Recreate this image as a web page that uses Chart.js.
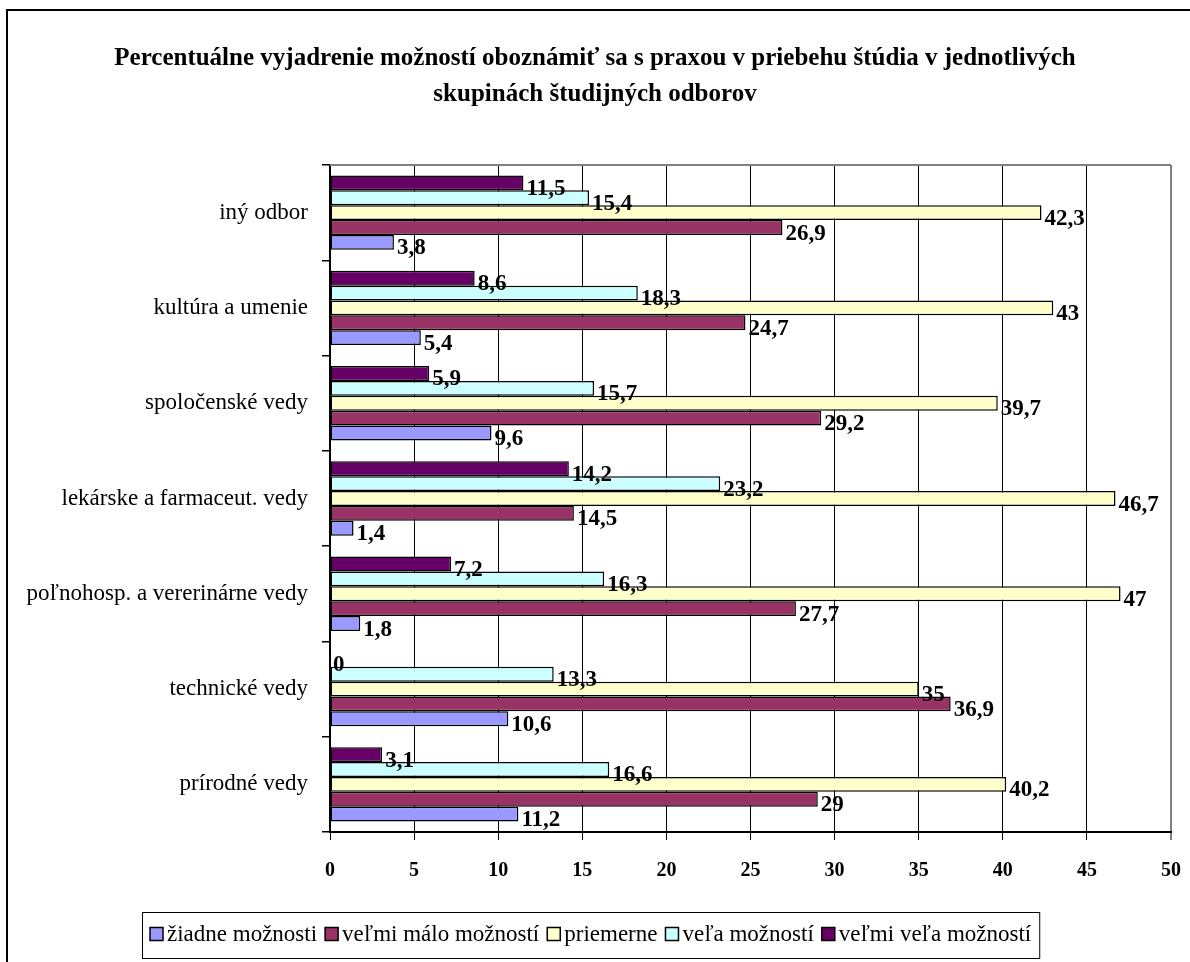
<!DOCTYPE html>
<html>
<head>
<meta charset="utf-8">
<script src="https://cdn.jsdelivr.net/npm/chart.js@4.4.0/dist/chart.umd.min.js"></script>
<style>
  html, body { margin: 0; padding: 0; background: #fff; }
  #wrap { position: relative; width: 1190px; height: 962px; }
</style>
</head>
<body>
<div id="wrap"><canvas id="chart" width="1190" height="962"></canvas></div>
<script>
// data (bottom category first, the y axis is reversed)
const categories = ['prírodné vedy', 'technické vedy', 'poľnohosp. a vererinárne vedy',
  'lekárske a farmaceut. vedy', 'spoločenské vedy', 'kultúra a umenie', 'iný odbor'];
const seriesNames = ['žiadne možnosti', 'veľmi málo možností', 'priemerne', 'veľa možností', 'veľmi veľa možností'];
const ziadne    = [11.2, 10.6, 1.8, 1.4, 9.6, 5.4, 3.8];
const velmiMalo = [29, 36.9, 27.7, 14.5, 29.2, 24.7, 26.9];
const priemerne = [40.2, 35, 47, 46.7, 39.7, 43, 42.3];
const vela      = [16.6, 13.3, 16.3, 23.2, 15.7, 18.3, 15.4];
const velmiVela = [3.1, 0, 7.2, 14.2, 5.9, 8.6, 11.5];
const xTicks = [0, 5, 10, 15, 20, 25, 30, 35, 40, 45, 50];
const titleLines = ['Percentuálne vyjadrenie možností oboznámiť sa s praxou v priebehu štúdia v jednotlivých',
  'skupinách študijných odborov'];

const colors = ['#9999FF', '#993366', '#FFFFCC', '#CCFFFF', '#660066'];
const allValues = [ziadne, velmiMalo, priemerne, vela, velmiVela];

const serif = '"Liberation Serif", "Times New Roman", serif';

// frame, title, plot top border, legend
const framePlugin = {
  id: 'frame',
  beforeDraw(chart) {
    const c = chart.ctx;
    c.save();
    c.fillStyle = '#fff';
    c.fillRect(0, 0, chart.width, chart.height);
    c.strokeStyle = '#000';
    c.lineWidth = 2;
    c.beginPath();
    c.moveTo(7, 962);
    c.lineTo(7, 10);
    c.lineTo(1190, 10);
    c.stroke();
    c.restore();
  },
  afterDraw(chart) {
    const c = chart.ctx;
    const a = chart.chartArea;
    c.save();
    c.strokeStyle = '#808080';
    c.lineWidth = 2;
    c.beginPath();
    c.moveTo(a.left, a.top);
    c.lineTo(a.right, a.top);
    c.stroke();

    // title
    c.fillStyle = '#000';
    c.font = 'bold 25px ' + serif;
    c.textAlign = 'center';
    c.textBaseline = 'middle';
    titleLines.forEach((t, i) => c.fillText(t, 595, 59 + i * 36));

    // legend
    c.font = '23px ' + serif;
    c.textAlign = 'left';
    const mk = 13, gapIn = 4, gapOut = 8, padX = 8;
    const widths = seriesNames.map(n => c.measureText(n).width);
    let total = padX * 2;
    widths.forEach((w, i) => { total += mk + gapIn + w + (i < widths.length - 1 ? gapOut : 0); });
    const left = Math.round(591 - total / 2);
    const top = 912, h = 46, cy = 934;
    c.strokeStyle = '#000';
    c.lineWidth = 1;
    c.strokeRect(left + 0.5, top + 0.5, total, h);
    let x = left + padX;
    seriesNames.forEach((n, i) => {
      c.fillStyle = colors[i];
      c.fillRect(x, cy - mk / 2, mk, mk);
      c.lineWidth = 1.5;
      c.strokeRect(x, cy - mk / 2, mk, mk);
      c.fillStyle = '#000';
      c.fillText(n, x + mk + gapIn, cy + 1);
      x += mk + gapIn + widths[i] + gapOut;
    });
    c.restore();
  }
};

// value labels at bar ends
const labelPlugin = {
  id: 'vals',
  afterDatasetsDraw(chart) {
    const c = chart.ctx;
    c.save();
    c.font = 'bold 23px ' + serif;
    c.fillStyle = '#000';
    c.textBaseline = 'alphabetic';
    c.textAlign = 'left';
    chart.data.datasets.forEach((ds, i) => {
      chart.getDatasetMeta(i).data.forEach((bar, j) => {
        const txt = String(ds.data[j]).replace('.', ',');
        c.fillText(txt, bar.x + 3, bar.y + 12);
      });
    });
    c.restore();
  }
};

const datasets = seriesNames.map((name, i) => ({
  label: name,
  data: allValues[i],
  order: seriesNames.length - 1 - i,
  backgroundColor: colors[i],
  borderColor: '#000',
  borderWidth: 1.5,
  borderSkipped: false,
  barPercentage: 1,
  categoryPercentage: 0.78
}));

const ctx = document.getElementById('chart').getContext('2d');
new Chart(ctx, {
  type: 'bar',
  data: { labels: categories, datasets: datasets },
  options: {
    indexAxis: 'y',
    responsive: false,
    animation: false,
    devicePixelRatio: 1,
    layout: { padding: { left: 0, right: 19, top: 165, bottom: 80 } },
    scales: {
      x: {
        min: 0, max: 50,
        afterBuildTicks(scale) { scale.ticks = xTicks.map(v => ({ value: v })); },
        grid: {
          color: (c) => (c.tick && c.tick.value === 50 ? '#808080' : '#000'),
          lineWidth: (c) => (c.tick && c.tick.value === 50 ? 2 : 1),
          tickLength: 8,
          drawTicks: true
        },
        border: { color: '#000', width: 2 },
        ticks: {
          color: '#000',
          font: { family: serif, size: 20, weight: 'bold' },
          padding: 19
        },
        afterFit(scale) {
          scale.height = 50;
          scale.paddingLeft = 0;
          scale.paddingRight = 0;
        }
      },
      y: {
        reverse: true,
        grid: {
          offset: true,
          drawOnChartArea: false,
          color: '#000',
          lineWidth: 1.5,
          tickLength: 8
        },
        border: { color: '#000', width: 2 },
        ticks: {
          color: '#000',
          font: { family: serif, size: 23 },
          padding: 14
        },
        afterFit(scale) { scale.width = 330; }
      }
    },
    plugins: {
      title: { display: false },
      legend: { display: false },
      tooltip: { enabled: false }
    }
  },
  plugins: [framePlugin, labelPlugin]
});
</script>
</body>
</html>
